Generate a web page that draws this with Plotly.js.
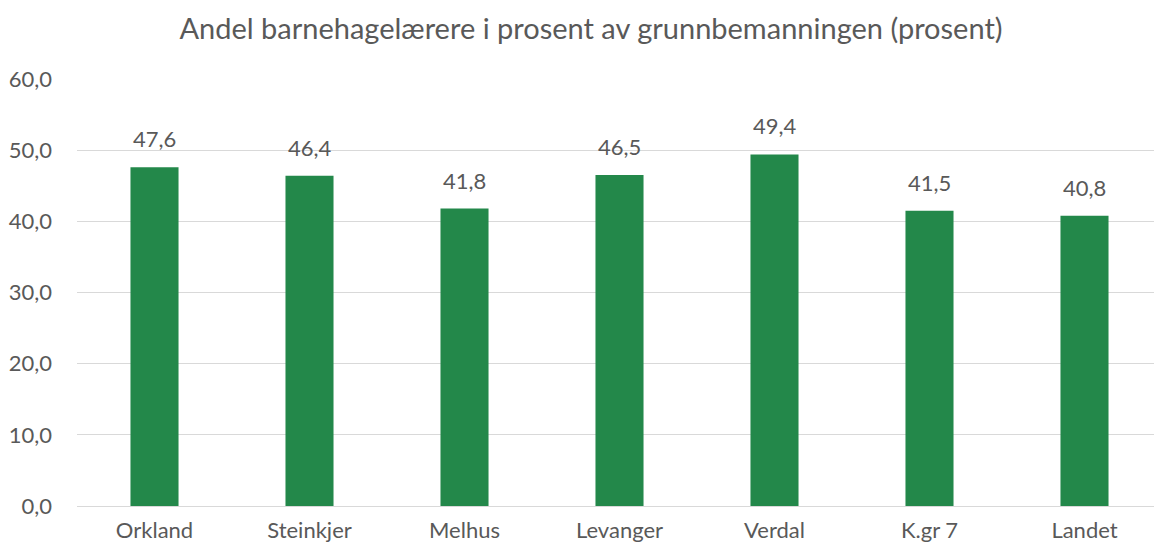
<!DOCTYPE html>
<html>
<head>
<meta charset="utf-8">
<script src="https://cdn.plot.ly/plotly-3.0.1.min.js"></script>
<style>html,body{margin:0;padding:0;overflow:hidden;background:#fff;}#chart{width:1162px;height:545px;}</style>
</head>
<body>
<div id="chart"></div>
<script>
var categories = ["Orkland", "Steinkjer", "Melhus", "Levanger", "Verdal", "K.gr 7", "Landet"];
var values = [47.6, 46.4, 41.8, 46.5, 49.4, 41.5, 40.8];
var yTickVals = [0, 10, 20, 30, 40, 50, 60];

var FONT = 'Lato, sans-serif';
var GREY = '#595959';

var trace = {
  type: 'bar',
  x: categories,
  y: values,
  marker: {color: '#23884A'},
  hoverinfo: 'none'
};

var annotations = categories.map(function (c, i) {
  return {
    x: c, y: values[i], xref: 'x', yref: 'y',
    text: values[i].toFixed(1).replace('.', ','),
    showarrow: false, yanchor: 'bottom', yshift: 13,
    font: {family: FONT, size: 22, color: GREY}
  };
});

var layout = {
  width: 1162,
  height: 545,
  separators: ', ',
  margin: {l: 77, r: 0, t: 79, b: 39, pad: 0},
  paper_bgcolor: '#ffffff',
  plot_bgcolor: '#ffffff',
  bargap: 0.69,
  showlegend: false,
  font: {family: FONT, color: GREY, size: 22},
  annotations: annotations,
  title: {
    text: 'Andel barnehagelærere i prosent av grunnbemanningen (prosent)',
    font: {family: FONT, size: 29, color: GREY},
    x: 591/1162, xanchor: 'center', y: 1 - 29/545, yanchor: 'middle'
  },
  xaxis: {
    type: 'category',
    showgrid: false,
    showline: false,
    zeroline: false,
    ticks: '',
    ticklabelstandoff: 9,
    tickfont: {family: FONT, size: 22, color: GREY}
  },
  yaxis: {
    range: [0, 60],
    tickvals: yTickVals,
    tickformat: '.1f',
    showgrid: true,
    gridcolor: '#d9d9d9',
    gridwidth: 1,
    zeroline: true,
    zerolinecolor: '#d9d9d9',
    zerolinewidth: 1,
    showline: false,
    ticks: '',
    ticklabelstandoff: 24,
    tickfont: {family: FONT, size: 22, color: GREY}
  }
};

Plotly.newPlot('chart', [trace], layout, {displayModeBar: false, staticPlot: true});
</script>
</body>
</html>
